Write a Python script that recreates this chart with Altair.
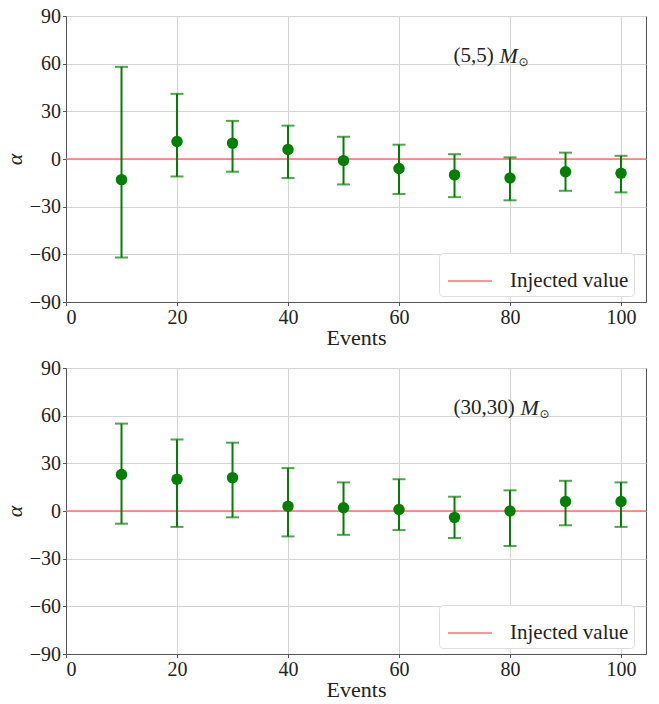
import altair as alt
import pandas as pd

# ---------------- data ----------------
events = [10, 20, 30, 40, 50, 60, 70, 80, 90, 100]

alpha_5 = [-13, 11, 10, 6, -1, -6, -10, -12, -8, -9]
upper_5 = [58, 41, 24, 21, 14, 9, 3, 1, 4, 2]
lower_5 = [-62, -11, -8, -12, -16, -22, -24, -26, -20, -21]

alpha_30 = [23, 20, 21, 3, 2, 1, -4, 0, 6, 6]
upper_30 = [55, 45, 43, 27, 18, 20, 9, 13, 19, 18]
lower_30 = [-8, -10, -4, -16, -15, -12, -17, -22, -9, -10]

mass_labels = ["(5,5)", "(30,30)"]
injected_value = [0]
legend_label = "Injected value"

x_ticks = [0, 20, 40, 60, 80, 100]
y_ticks = [-90, -60, -30, 0, 30, 60, 90]

SERIF = "Liberation Serif"
W, H = 580, 286

xscale = alt.Scale(domain=[0, 104.5], nice=False, zero=False)
yscale = alt.Scale(domain=[-90, 90], nice=False, zero=False)
xaxis = alt.Axis(values=x_ticks, title="Events", format="d", titlePadding=0)
yaxis = alt.Axis(
    values=y_ticks, title="α", titleFontStyle="italic", format="d",
    titleX=-52, titleY=H / 2, titleAngle=270, titleAlign="center", titleBaseline="middle",
)


def panel(alpha, up, lo, label, m_dx):
    df = pd.DataFrame({"events": events, "alpha": alpha, "upper": up, "lower": lo})
    X = alt.X("events:Q", scale=xscale, axis=xaxis, title="Events")
    base = alt.Chart(df)

    inj = alt.Chart(pd.DataFrame({"y": injected_value, "name": [legend_label]})).mark_rule(
        strokeWidth=1.6
    ).encode(
        y=alt.Y("y:Q", scale=yscale, axis=yaxis, title="α"),
        color=alt.Color(
            "name:N",
            scale=alt.Scale(domain=[legend_label], range=["#ff7070"]),
            legend=alt.Legend(
                title=None,
                orient="none",
                legendX=373,
                legendY=H - 49,
                symbolType="stroke",
                symbolSize=1936,
                symbolStrokeWidth=1.6,
                symbolOffset=3,
                labelFont=SERIF,
                labelFontSize=21,
                labelColor="#222",
                labelOffset=17,
                labelLimit=400,
                padding=5,
                fillColor="white",
                strokeColor="#dcdcdc",
                cornerRadius=4,
            ),
        ),
    )

    bars = base.mark_rule(color="green", strokeWidth=2).encode(
        x=X,
        y=alt.Y("lower:Q", scale=yscale, axis=yaxis, title="α"),
        y2="upper:Q",
    )
    cap_up = base.mark_tick(color="green", orient="horizontal", size=13, thickness=2).encode(
        x=X, y=alt.Y("upper:Q", scale=yscale, axis=yaxis, title="α")
    )
    cap_lo = base.mark_tick(color="green", orient="horizontal", size=13, thickness=2).encode(
        x=X, y=alt.Y("lower:Q", scale=yscale, axis=yaxis, title="α")
    )
    pts = base.mark_circle(color="green", size=130, opacity=1).encode(
        x=X, y=alt.Y("alpha:Q", scale=yscale, axis=yaxis, title="α")
    )

    ann = pd.DataFrame({"x": [70], "y": [65], "t": [label], "m": ["M"], "s": ["⊙"]})
    ax = alt.X("x:Q", scale=xscale, axis=xaxis, title="Events")
    ay = alt.Y("y:Q", scale=yscale, axis=yaxis, title="α")
    t1 = alt.Chart(ann).mark_text(
        align="left", baseline="middle", font=SERIF, fontSize=21, color="#222", dx=-1
    ).encode(x=ax, y=ay, text="t:N")
    t2 = alt.Chart(ann).mark_text(
        align="left", baseline="middle", font=SERIF, fontSize=22, fontStyle="italic",
        color="#222", dx=m_dx
    ).encode(x=ax, y=ay, text="m:N")
    t3 = alt.Chart(ann).mark_text(
        align="left", baseline="middle", font="DejaVu Sans", fontSize=12,
        color="#222", dx=m_dx + 19, dy=6
    ).encode(x=ax, y=ay, text="s:N")

    return alt.layer(inj, bars, cap_up, cap_lo, pts, t1, t2, t3).properties(
        width=W, height=H
    )


top = panel(alpha_5, upper_5, lower_5, mass_labels[0], 45)
bottom = panel(alpha_30, upper_30, lower_30, mass_labels[1], 66)

chart = (
    alt.vconcat(top, bottom, spacing=8)
    .resolve_scale(color="independent")
    .resolve_legend(color="independent")
    .properties(padding={"left": -6, "top": -3, "right": 0, "bottom": -4})
    .configure_view(stroke="#555", strokeWidth=1)
    .configure_axis(
        labelFont=SERIF,
        labelFontSize=20,
        labelColor="#222",
        titleFont=SERIF,
        titleFontSize=22,
        titleFontWeight="normal",
        titleColor="#222",
        gridColor="#d3d3d3",
        gridWidth=1,
        domainColor="#555",
        tickColor="#555",
        tickSize=3.5,
        labelPadding=2,
    )
)

chart.save("out.html", embed_options={"renderer": "svg", "actions": False})
